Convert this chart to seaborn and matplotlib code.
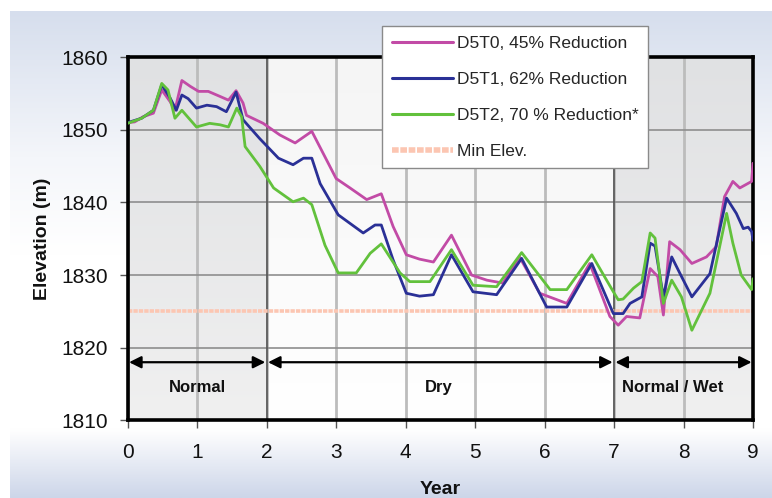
import numpy as np
import pandas as pd
import matplotlib
matplotlib.use('Agg')
import matplotlib.pyplot as plt
import matplotlib.colors as mcolors
from matplotlib.lines import Line2D
import seaborn as sns

# elevation traces (year, metres)
YEAR_T0 = [0, 0.1, 0.22, 0.37, 0.49, 0.61, 0.68, 0.78, 0.9, 1.02, 1.16, 1.33, 1.45, 1.56, 1.66,
           1.71, 1.95, 2.19, 2.41, 2.65, 3.0, 3.2, 3.44, 3.65, 3.82, 4.01, 4.2, 4.4, 4.66, 4.95,
           5.17, 5.4, 5.64, 5.93, 6.32, 6.65, 6.94, 7.06, 7.18, 7.37, 7.52, 7.63, 7.71, 7.8,
           7.95, 8.12, 8.33, 8.47, 8.59, 8.71, 8.81, 8.98, 9.0]
ELEV_T0 = [1851.0, 1851.1, 1851.8, 1852.3, 1855.5, 1853.9, 1852.7, 1856.8, 1856.0, 1855.3,
           1855.3, 1854.6, 1854.1, 1855.4, 1853.7, 1852.0, 1850.9, 1849.3, 1848.2, 1849.8,
           1843.3, 1842.0, 1840.4, 1841.2, 1836.7, 1832.8, 1832.2, 1831.8, 1835.5, 1830.0,
           1829.3, 1828.9, 1832.5, 1827.5, 1826.1, 1831.6, 1824.3, 1823.1, 1824.3, 1824.1,
           1830.9, 1829.8, 1824.5, 1834.6, 1833.5, 1831.6, 1832.5, 1833.9, 1840.8, 1842.9,
           1842.0, 1842.9, 1845.4]

YEAR_T1 = [0, 0.2, 0.37, 0.49, 0.61, 0.7, 0.78, 0.87, 0.99, 1.14, 1.28, 1.42, 1.56, 1.66, 1.9,
           2.17, 2.38, 2.53, 2.65, 2.77, 3.03, 3.39, 3.56, 3.65, 3.82, 4.01, 4.2, 4.4, 4.66,
           4.97, 5.31, 5.67, 6.03, 6.32, 6.68, 6.99, 7.13, 7.23, 7.4, 7.52, 7.59, 7.71, 7.83,
           7.95, 8.12, 8.38, 8.62, 8.76, 8.86, 8.93, 8.98, 9.0]
ELEV_T1 = [1851.0, 1851.6, 1852.7, 1856.2, 1854.4, 1852.7, 1854.8, 1854.3, 1853.0, 1853.4,
           1853.2, 1852.5, 1855.2, 1851.4, 1848.8, 1846.1, 1845.2, 1846.1, 1846.1, 1842.6,
           1838.3, 1835.8, 1836.9, 1836.9, 1832.1, 1827.5, 1827.1, 1827.3, 1832.8, 1827.7,
           1827.3, 1832.3, 1825.6, 1825.6, 1831.6, 1824.7, 1824.7, 1826.1, 1827.0, 1834.4,
           1834.0, 1827.0, 1832.5, 1830.2, 1827.0, 1830.2, 1840.6, 1838.5, 1836.4, 1836.6,
           1836.0, 1834.8]

YEAR_T2 = [0, 0.2, 0.37, 0.49, 0.58, 0.68, 0.78, 0.88, 0.99, 1.18, 1.33, 1.45, 1.57, 1.64,
           1.69, 1.9, 2.1, 2.38, 2.53, 2.65, 2.84, 3.03, 3.29, 3.49, 3.65, 3.92, 4.06, 4.35,
           4.66, 4.97, 5.31, 5.67, 6.08, 6.32, 6.68, 6.99, 7.06, 7.13, 7.28, 7.4, 7.52, 7.59,
           7.71, 7.83, 7.97, 8.12, 8.38, 8.62, 8.71, 8.83, 8.98, 9.0]
ELEV_T2 = [1850.9, 1851.6, 1852.7, 1856.4, 1855.5, 1851.6, 1852.7, 1851.6, 1850.4, 1850.9,
           1850.7, 1850.4, 1853.0, 1851.8, 1847.7, 1845.0, 1842.0, 1840.1, 1840.6, 1839.7,
           1834.1, 1830.3, 1830.3, 1833.0, 1834.3, 1830.3, 1829.1, 1829.1, 1833.5, 1828.6,
           1828.4, 1833.1, 1828.0, 1828.0, 1832.8, 1827.7, 1826.6, 1826.7, 1828.2, 1829.1,
           1835.8, 1835.1, 1826.1, 1829.3, 1827.0, 1822.4, 1827.5, 1838.5, 1834.4, 1830.0,
           1828.0, 1829.5]

SERIES = ['D5T0, 45% Reduction', 'D5T1, 62% Reduction', 'D5T2, 70 % Reduction*']
MIN_ELEV = 1825
MIN_LABEL = 'Min Elev.'

PERIOD_EDGES = [0, 2, 7, 9]
PERIOD_NAMES = ['Normal', 'Dry', 'Normal / Wet']
PERIOD_TEXT_X = [1.0, 4.47, 7.85]

colors = ['#c24ba6', '#2a3096', '#62c13c']
min_color = '#fcc6b2'

df = pd.concat([
    pd.DataFrame({'Year': YEAR_T0, 'Elevation': ELEV_T0, 'Run': SERIES[0]}),
    pd.DataFrame({'Year': YEAR_T1, 'Elevation': ELEV_T1, 'Run': SERIES[1]}),
    pd.DataFrame({'Year': YEAR_T2, 'Elevation': ELEV_T2, 'Run': SERIES[2]}),
])

sns.set_theme(style='white')
plt.rcParams['font.family'] = ['Liberation Sans', 'DejaVu Sans']

fig = plt.figure(figsize=(7.72, 4.98), dpi=100)
fig.patch.set_facecolor('white')


def vgrad(stops, n=256):
    pos = [s[0] for s in stops]
    cols = np.array([mcolors.to_rgb(s[1]) for s in stops])
    t = np.linspace(0, 1, n)
    arr = np.stack([np.interp(t, pos, cols[:, k]) for k in range(3)], axis=1)
    return arr[:, None, :]


# page background gradient
bg = fig.add_axes([10 / 772, 0, 762 / 772, 487 / 498], zorder=-10)
bg.imshow(vgrad([(0, '#d6deed'), (0.3, '#f4f6fa'), (0.5, '#ffffff'), (0.86, '#ffffff'),
                 (1.0, '#cdd6e9')]), aspect='auto', extent=(0, 1, 0, 1))
bg.set_axis_off()

ax = fig.add_axes([0.1654, 0.156, 0.81, 0.729])

# shaded periods
grey = vgrad([(0, '#e0e1e3'), (1, '#f0f0f0')])
white = vgrad([(0, '#f5f5f5'), (1, '#ffffff')])
for i in range(3):
    ax.imshow(grey if i != 1 else white, aspect='auto', zorder=0.1,
              extent=(PERIOD_EDGES[i], PERIOD_EDGES[i + 1], 1810, 1860))

sns.lineplot(data=df, x='Year', y='Elevation', hue='Run', palette=colors,
             estimator=None, sort=False, linewidth=2.0, ax=ax, legend=False, zorder=3)
ax.axhline(MIN_ELEV, color=min_color, lw=2.6, ls=(0, (1.2, 0.3)), zorder=2)

ax.set_xlim(0, 9)
ax.set_ylim(1810, 1860)
ax.set_xticks(range(0, 10))
ax.set_yticks(range(1810, 1861, 10))

ax.set_axisbelow(True)
ax.xaxis.grid(True, color='#bcbcbc', lw=2)
ax.yaxis.grid(True, color='#8e8e8e', lw=1.2)
for xb in PERIOD_EDGES[1:-1]:
    ax.axvline(xb, color='#555555', lw=1.2, zorder=1)

for s in ax.spines.values():
    s.set_color('black')
    s.set_linewidth(2.6)

ax.tick_params(axis='both', direction='out', length=6, width=1, color='#555555',
               labelsize=15, labelcolor='#111111', bottom=True, left=True)
ax.tick_params(axis='x', pad=10)
ax.tick_params(axis='y', pad=8)

# period arrows and labels
for i, name in enumerate(PERIOD_NAMES):
    ax.annotate('', xy=(PERIOD_EDGES[i], 1818), xytext=(PERIOD_EDGES[i + 1], 1818),
                arrowprops=dict(arrowstyle='<|-|>', color='black', lw=1.6,
                                shrinkA=1, shrinkB=1, mutation_scale=18), zorder=4)
    ax.text(PERIOD_TEXT_X[i], 1814.5, name, ha='center', va='center',
            fontsize=12, fontweight='bold', color='#111111', zorder=4)

ax.set_xlabel('Year', fontsize=14, fontweight='bold', labelpad=14, color='#111111')
ax.set_ylabel('Elevation (m)', fontsize=14, fontweight='bold', labelpad=8, color='#111111')

handles = [Line2D([], [], color=c, lw=2.2) for c in colors]
handles.append(Line2D([], [], color=min_color, lw=4, ls=(0, (1.2, 0.3))))
leg = ax.legend(handles, SERIES + [MIN_LABEL], loc='upper left',
                bbox_to_anchor=(0.407, 1.086), fontsize=12.5, frameon=True, fancybox=False,
                edgecolor='#8a8a8a', framealpha=1, handlelength=3.5, handletextpad=0.25,
                labelspacing=1.2, borderpad=0.55, borderaxespad=0)
leg.get_frame().set_linewidth(1)
leg.set_zorder(10)

fig.savefig('out.png', dpi=100)
